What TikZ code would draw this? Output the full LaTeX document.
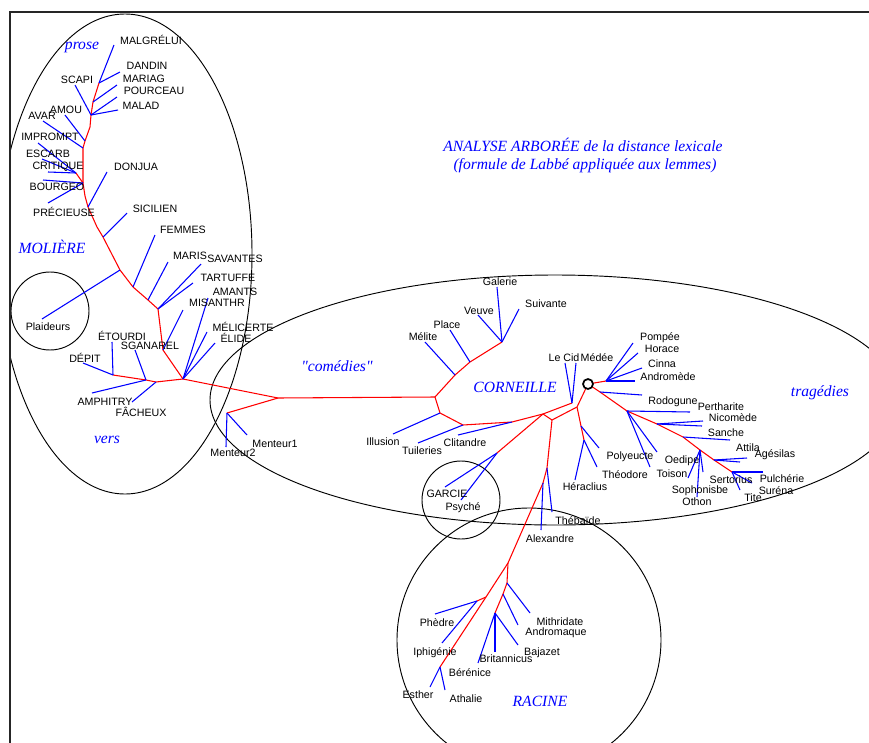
\documentclass[tikz,border=0pt]{standalone}
\usepackage{fontspec}
\setmainfont{Liberation Sans}
\newfontfamily\ttlfont{Liberation Serif}
\tikzset{
  redE/.style={draw=red, line width=0.8pt, line join=round},
  blueE/.style={draw=blue, line width=0.8pt},
  lbl/.style={font=\fontsize{8}{9}\selectfont, inner sep=0pt},
  grp/.style={font=\ttlfont\itshape\fontsize{11.7}{13}\selectfont, text=blue, inner sep=0pt},
  ring/.style={draw=black, line width=0.7pt},
}
\newcommand\leafline[3]{\coordinate (#2) at (#3); \draw[blueE] (#1) -- (#2);}
\begin{document}
\begin{tikzpicture}[x=0.75pt,y=-0.75pt]
\useasboundingbox (0,0) rectangle (869,743);
\fill[white] (0,0) rectangle (869,743);
% ---- group outlines
\begin{scope}
\clip (10,12) rectangle (869,743);
\draw[ring] (125,254) ellipse [x radius=95.25pt, y radius=180pt];
\draw[ring] (50,311) circle [radius=29.25pt];
\draw[ring] (555,400) ellipse [x radius=258.75pt, y radius=93.75pt];
\draw[ring] (461,500) circle [radius=29.25pt];
\draw[ring] (529,640) circle [radius=99pt];
\end{scope}
\draw[line width=1.1pt, black!85] (10,743) -- (10,12) -- (869,12);
% ---- junctions Moliere
\coordinate (m0) at (278,398);
\coordinate (mt) at (227,413);
\coordinate (c0) at (435,397);
\coordinate (m1) at (183,379);
\coordinate (m1a) at (156,382);
\coordinate (m1b) at (146,380);
\coordinate (m1c) at (113,375);
\coordinate (m2) at (163,350);
\coordinate (m3) at (158,309);
\coordinate (m4) at (148,300);
\coordinate (m5) at (133,287);
\coordinate (m6) at (120,270);
\coordinate (m7) at (103,237);
\coordinate (m7a) at (97,227);
\coordinate (m8) at (88,207);
\coordinate (m9) at (85,196);
\coordinate (m10) at (83,183);
\coordinate (m10a) at (76,173);
\coordinate (m11) at (83,148);
\coordinate (m12) at (85,141);
\coordinate (m13) at (90,127);
\coordinate (m14) at (91,115);
\coordinate (m15) at (93,102);
\coordinate (m16) at (99,83);
% ---- junctions Corneille
\coordinate (ca) at (455,375);
\coordinate (cb) at (470,362);
\coordinate (cc) at (502,342);
\coordinate (cd) at (440,413);
\coordinate (ce) at (463,425);
\coordinate (cf) at (512,422);
\coordinate (cg) at (543,414);
\coordinate (ch) at (572,403);
\coordinate (g0) at (497,453);
\coordinate (ck) at (552,420);
\coordinate (cl) at (577,407);
\coordinate (hk) at (581,426);
\coordinate (hj) at (584,440);
\coordinate (oc) at (588,384);
\coordinate (o1) at (606,381);
\coordinate (ot) at (600,392);
\coordinate (t1) at (627,411);
\coordinate (t2) at (657,424);
\coordinate (t3) at (683,437);
\coordinate (t4) at (700,450);
\coordinate (t5) at (714,460);
\coordinate (t6) at (732,472);
% ---- junctions Racine
\coordinate (r0) at (547,468);
\coordinate (r0b) at (543,483);
\coordinate (r1) at (508,563);
\coordinate (r2) at (507,583);
\coordinate (r3) at (503,594);
\coordinate (r4) at (495,613);
\coordinate (r5) at (486,597);
\coordinate (r6) at (477,601);
\coordinate (r7) at (440,667);
% ---- red internal edges
\draw[redE] (c0) -- (m0) -- (m1) -- (m1a) -- (m1b) -- (m1c);
\draw[redE] (m0) -- (mt);
\draw[redE] (m1) -- (m2) -- (m3) -- (m4) -- (m5) -- (m6) -- (m7) -- (m7a) -- (m8) -- (m9) -- (m10) -- (m11) -- (m12) -- (m13) -- (m14) -- (m15) -- (m16);
\draw[redE] (m10) -- (m10a);
\draw[redE] (c0) -- (ca) -- (cb) -- (cc);
\draw[redE] (c0) -- (cd) -- (ce) -- (cf) -- (cg) -- (ch);
\draw[redE] (cg) -- (g0);
\draw[redE] (cg) -- (ck) -- (cl) -- (oc) -- (ot) -- (t1) -- (t2) -- (t3) -- (t4) -- (t5) -- (t6);
\draw[redE] (oc) -- (o1);
\draw[redE] (cl) -- (hk) -- (hj);
\draw[redE] (ck) -- (r0) -- (r0b) -- (r1) -- (r2) -- (r3) -- (r4);
\draw[redE] (r1) -- (r5) -- (r7);
\draw[redE] (r5) -- (r6);
% ---- blue leaves Moliere
\leafline{mt}{e-ment1}{247,435}
\leafline{mt}{e-ment2}{226,447}
\leafline{m1c}{e-etourdi}{112,342}
\leafline{m1c}{e-depit}{83,363}
\leafline{m1b}{e-sganarel}{135,350}
\leafline{m1b}{e-amphitry}{92,393}
\leafline{m1a}{e-facheux}{132,402}
\leafline{m1}{e-amants}{208,298}
\leafline{m1}{e-melicerte}{207,332}
\leafline{m1}{e-elide}{215,343}
\leafline{m2}{e-misanthr}{183,310}
\leafline{m3}{e-tartuffe}{193,283}
\leafline{m3}{e-savantes}{201,264}
\leafline{m4}{e-maris}{168,262}
\leafline{m5}{e-femmes}{155,235}
\leafline{m6}{e-plaideurs}{42,319}
\leafline{m7}{e-sicilien}{127,213}
\leafline{m8}{e-donjua}{107,172}
\leafline{m10}{e-precieuse}{48,203}
\leafline{m10}{e-bourgeo}{43,180}
\leafline{m10a}{e-critique}{48,172}
\leafline{m10a}{e-escarb}{42,159}
\leafline{m10a}{e-impromt}{38,143}
\leafline{m11}{e-avar}{43,121}
\leafline{m12}{e-amou}{65,115}
\leafline{m14}{e-scapi}{75,85}
\leafline{m14}{e-pourceau}{117,97}
\leafline{m14}{e-malad}{118,110}
\leafline{m15}{e-mariag}{117,85}
\leafline{m16}{e-dandin}{120,72}
\leafline{m16}{e-malgre}{114,45}
% ---- blue leaves Corneille
\leafline{cc}{e-galerie}{497,287}
\leafline{cc}{e-veuve}{478,315}
\leafline{cc}{e-suivante}{519,309}
\leafline{cb}{e-place}{450,330}
\leafline{ca}{e-melite}{425,342}
\leafline{cd}{e-illusion}{393,434}
\leafline{ce}{e-tuileries}{418,443}
\leafline{cf}{e-clitandre}{458,435}
\leafline{ch}{e-lecid}{565,363}
\leafline{ch}{e-medee}{576,363}
\leafline{g0}{e-garcie}{445,487}
\leafline{g0}{e-psyche}{461,500}
\leafline{hj}{e-heraclius}{575,480}
\leafline{hj}{e-theodore}{597,467}
\leafline{hk}{e-hk}{599,448}
\leafline{o1}{e-pompee}{633,343}
\leafline{o1}{e-horace}{638,353}
\leafline{o1}{e-cinna}{642,368}
\leafline{o1}{e-andromede}{635,381}
\leafline{ot}{e-ot}{642,395}
\leafline{t1}{e-rodogune}{690,412}
\leafline{t1}{e-pol1}{650,467}
\leafline{t1}{e-pol2}{657,452}
\leafline{t2}{e-perth}{703,421}
\leafline{t2}{e-nicom}{702,426}
\leafline{t3}{e-sanche}{730,440}
\leafline{t4}{e-oedipe}{688,478}
\leafline{t4}{e-sopho}{697,497}
\leafline{t4}{e-toison}{703,472}
\leafline{t5}{e-attila}{747,458}
\leafline{t5}{e-agesilas}{740,462}
\leafline{t6}{e-pulch}{763,472}
\leafline{t6}{e-surena}{752,483}
\leafline{t6}{e-sertor}{740,490}
% ---- blue leaves Racine
\leafline{r0}{e-thebaide}{552,512}
\leafline{r0b}{e-alexandre}{541,530}
\leafline{r2}{e-mithridate}{530,613}
\leafline{r3}{e-andromaque}{518,625}
\leafline{r4}{e-britannicus}{495,652}
\leafline{r4}{e-bajazet}{518,645}
\leafline{r4}{e-berenice}{478,663}
\leafline{r6}{e-phedre}{435,614}
\leafline{r6}{e-iphigenie}{442,643}
\leafline{r7}{e-esther}{430,687}
\leafline{r7}{e-athalie}{445,690}
% ---- root ring
\node[circle, draw=black, fill=white, line width=1.3pt, minimum size=7.5pt, inner sep=0pt] (onode) at (oc) {};
% ---- labels Moliere
\node[lbl] (l-malgre) at (151,40) {MALGRÉLUI};
\node[lbl] (l-dandin) at (147,66) {DANDIN};
\node[lbl] (l-mariag) at (144,79) {MARIAG};
\node[lbl] (l-pourceau) at (154,91) {POURCEAU};
\node[lbl] (l-malad) at (141,106) {MALAD};
\node[lbl] (l-scapi) at (77,80) {SCAPI};
\node[lbl] (l-amou) at (66,110) {AMOU};
\node[lbl] (l-avar) at (42,116) {AVAR};
\node[lbl] (l-impromt) at (50,137) {IMPROMPT};
\node[lbl] (l-escarb) at (48,154) {ESCARB};
\node[lbl] (l-critique) at (58,167) {CRITIQUE};
\node[lbl] (l-bourgeo) at (57,187) {BOURGEO};
\node[lbl] (l-precieuse) at (64,212) {PRÉCIEUSE};
\node[lbl] (l-donjua) at (136,167) {DONJUA};
\node[lbl] (l-sicilien) at (155,209) {SICILIEN};
\node[lbl] (l-femmes) at (183,230) {FEMMES};
\node[lbl] (l-maris) at (190,256) {MARIS};
\node[lbl] (l-savantes) at (235,259) {SAVANTES};
\node[lbl] (l-tartuffe) at (228,278) {TARTUFFE};
\node[lbl] (l-amants) at (235,292) {AMANTS};
\node[lbl] (l-misanthr) at (217,303) {MISANTHR};
\node[lbl] (l-melicerte) at (243,327) {MÉLICERTE};
\node[lbl] (l-elide) at (236,338) {ÉLIDE};
\node[lbl] (l-etourdi) at (122,336) {ÉTOURDI};
\node[lbl] (l-sganarel) at (150,346) {SGANAREL};
\node[lbl] (l-depit) at (85,358) {DÉPIT};
\node[lbl] (l-amphitry) at (105,402) {AMPHITRY};
\node[lbl] (l-facheux) at (141,412) {FÂCHEUX};
\node[lbl] (l-plaideurs) at (48,327) {Plaideurs};
\node[lbl] (l-ment1) at (275,444) {Menteur1};
\node[lbl] (l-ment2) at (233,453) {Menteur2};
\node[grp] (g-prose) at (82,47) {prose};
\node[grp] (g-moliere) at (52,247) {MOLIÈRE};
\node[grp] (g-vers) at (107,440) {vers};
% ---- labels Corneille
\node[lbl] (l-galerie) at (500,282) {Galerie};
\node[lbl] (l-veuve) at (479,311) {Veuve};
\node[lbl] (l-suivante) at (546,304) {Suivante};
\node[lbl] (l-place) at (447,325) {Place};
\node[lbl] (l-melite) at (423,337) {Mélite};
\node[lbl] (l-lecid) at (564,358) {Le Cid};
\node[lbl] (l-medee) at (597,358) {Médée};
\node[lbl] (l-pompee) at (660,338) {Pompée};
\node[lbl] (l-horace) at (662,349) {Horace};
\node[lbl] (l-cinna) at (662,364) {Cinna};
\node[lbl] (l-andromede) at (668,377) {Andromède};
\node[lbl] (l-rodogune) at (673,402) {Rodogune};
\node[lbl] (l-perth) at (721,407) {Pertharite};
\node[lbl] (l-nicom) at (733,418) {Nicomède};
\node[lbl] (l-sanche) at (726,433) {Sanche};
\node[lbl] (l-attila) at (748,448) {Attila};
\node[lbl] (l-agesilas) at (775,455) {Agésilas};
\node[lbl] (l-oedipe) at (682,461) {Oedipe};
\node[lbl] (l-polyeucte) at (630,457) {Polyeucte};
\node[lbl] (l-theodore) at (625,475) {Théodore};
\node[lbl] (l-heraclius) at (585,487) {Héraclius};
\node[lbl] (l-toison) at (672,474) {Toison};
\node[lbl] (l-sertor) at (731,480) {Sertorius};
\node[lbl] (l-pulch) at (782,479) {Pulchérie};
\node[lbl] (l-surena) at (776,491) {Suréna};
\node[lbl] (l-sopho) at (700,491) {Sophonisbe};
\node[lbl] (l-othon) at (697,502) {Othon};
\node[lbl] (l-tite) at (753,498) {Tite};
\node[lbl] (l-illusion) at (383,442) {Illusion};
\node[lbl] (l-tuileries) at (422,451) {Tuileries};
\node[lbl] (l-clitandre) at (465,443) {Clitandre};
\node[lbl] (l-garcie) at (447,494) {GARCIE};
\node[lbl] (l-psyche) at (463,508) {Psyché};
\node[lbl] (l-thebaide) at (578,521) {Thébaïde};
\node[lbl] (l-alexandre) at (550,539) {Alexandre};
\node[grp] (g-comedies) at (337,366) {"comédies"};
\node[grp] (g-corneille) at (515,387) {CORNEILLE};
\node[grp] (g-tragedies) at (820,393) {tragédies};
% ---- labels Racine
\node[lbl] (l-mithridate) at (560,622) {Mithridate};
\node[lbl] (l-andromaque) at (556,633) {Andromaque};
\node[lbl] (l-bajazet) at (542,653) {Bajazet};
\node[lbl] (l-britannicus) at (506,659) {Britannicus};
\node[lbl] (l-berenice) at (470,673) {Bérénice};
\node[lbl] (l-phedre) at (437,623) {Phèdre};
\node[lbl] (l-iphigenie) at (435,653) {Iphigénie};
\node[lbl] (l-esther) at (418,695) {Esther};
\node[lbl] (l-athalie) at (466,699) {Athalie};
\node[grp] (g-racine) at (540,701) {RACINE};
% ---- title
\node[grp] (title1) at (583,145) {ANALYSE ARBORÉE de la distance lexicale};
\node[grp] (title2) at (585,166) {(formule de Labbé appliquée aux lemmes)};
\end{tikzpicture}
\end{document}
